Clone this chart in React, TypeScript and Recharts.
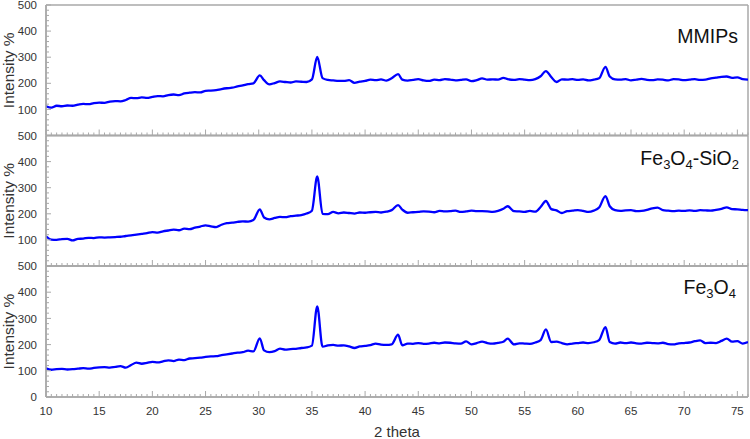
import React from 'react';
import { LineChart, Line, XAxis, YAxis, CartesianGrid } from 'recharts';

const theta = [
  10, 10.5, 11, 11.5, 12, 12.5, 13, 13.5, 14, 14.5,
  15, 15.5, 16, 16.5, 17, 17.5, 18, 18.5, 19, 19.5,
  20, 20.5, 21, 21.5, 22, 22.5, 23, 23.5, 24, 24.5,
  25, 25.5, 26, 26.5, 27, 27.5, 28, 28.5, 29, 29.5,
  30.1, 30.5, 31, 31.5, 32, 32.5, 33, 33.5, 34, 34.5,
  35, 35.5, 36, 36.5, 37, 37.5, 38, 38.5, 39, 39.5,
  40, 40.5, 41, 41.5, 42, 42.5, 43.1, 43.5, 44, 44.5,
  45, 45.5, 46, 46.5, 47, 47.5, 48, 48.5, 49, 49.5,
  50, 50.5, 51, 51.5, 52, 52.5, 53, 53.4, 54, 54.5,
  55, 55.5, 56, 56.5, 57, 57.5, 58, 58.5, 59, 59.5,
  60, 60.5, 61, 61.5, 62, 62.6, 63, 63.5, 64, 64.5,
  65, 65.5, 66, 66.5, 67, 67.5, 68, 68.5, 69, 69.5,
  70, 70.5, 71, 71.5, 72, 72.5, 73, 73.5, 74, 74.5,
  75, 75.5, 76,
];

const mmips = [
  112, 107, 114, 112, 115, 114, 118, 121, 120, 124,
  126, 125, 130, 132, 131, 136, 144, 143, 146, 144,
  148, 151, 150, 155, 157, 155, 161, 164, 166, 165,
  171, 172, 174, 178, 181, 183, 188, 192, 197, 200,
  230, 212, 196, 201, 207, 205, 203, 207, 206, 205,
  215, 301, 220, 213, 211, 209, 209, 212, 202, 206,
  209, 214, 212, 215, 210, 219, 235, 214, 210, 213,
  216, 211, 209, 214, 212, 216, 214, 211, 213, 215,
  208, 212, 219, 214, 215, 214, 221, 216, 213, 216,
  214, 212, 216, 227, 247, 224, 205, 215, 214, 216,
  213, 215, 211, 214, 219, 263, 226, 215, 214, 216,
  211, 214, 217, 213, 212, 215, 214, 211, 216, 215,
  212, 214, 216, 213, 214, 219, 222, 225, 226, 221,
  223, 216, 214,
];

const fe3o4SiO2 = [
  114, 101, 100, 103, 104, 98, 104, 105, 108, 107,
  110, 109, 110, 111, 112, 115, 117, 120, 123, 126,
  130, 128, 133, 136, 139, 137, 143, 141, 147, 151,
  156, 152, 149, 158, 164, 166, 169, 171, 170, 176,
  217, 186, 179, 184, 188, 187, 191, 193, 195, 201,
  212, 343, 200, 199, 207, 202, 205, 203, 201, 205,
  204, 206, 207, 205, 208, 214, 233, 216, 204, 206,
  207, 209, 208, 206, 211, 209, 210, 212, 207, 209,
  212, 210, 210, 209, 207, 211, 219, 229, 210, 209,
  207, 211, 208, 226, 249, 218, 213, 203, 210, 212,
  214, 211, 207, 212, 224, 268, 229, 214, 211, 213,
  214, 210, 211, 215, 221, 224, 214, 212, 210, 212,
  211, 213, 211, 214, 213, 212, 215, 219, 225, 218,
  217, 215, 214,
];

const fe3o4 = [
  110, 104, 106, 107, 105, 106, 108, 110, 108, 111,
  113, 114, 112, 115, 118, 112, 122, 131, 127, 130,
  134, 132, 136, 140, 137, 143, 141, 147, 148, 150,
  153, 155, 156, 160, 163, 166, 169, 171, 177, 174,
  224, 178, 171, 175, 185, 181, 183, 184, 187, 189,
  196, 346, 192, 197, 199, 196, 197, 193, 187, 193,
  195, 198, 204, 200, 199, 201, 238, 197, 204, 203,
  206, 203, 204, 207, 205, 208, 207, 205, 204, 212,
  201, 206, 211, 206, 204, 207, 211, 223, 201, 205,
  204, 203, 208, 217, 258, 210, 211, 206, 201, 204,
  206, 208, 206, 209, 217, 267, 210, 204, 208, 206,
  208, 205, 204, 207, 206, 205, 207, 202, 201, 205,
  206, 208, 213, 216, 206, 207, 206, 214, 223, 211,
  213, 204, 210,
];

const xTickLabels = [10, 15, 20, 25, 30, 35, 40, 45, 50, 55, 60, 65, 70, 75];
const yTickLabels = [0, 100, 200, 300, 400, 500];
const xTitle = '2 theta';
const yTitle = 'Intensity %';

const FONT = '"Liberation Sans", Arial, sans-serif';
const GRAY = '#a9a9a9';
const TEXT = '#333333';
const BLUE = '#0000ff';

const xMinorTicks: number[] = [];
for (let i = 0; i <= 132; i++) xMinorTicks.push(10 + i * 0.5);
const yMinorTicks: number[] = [];
for (let i = 0; i <= 25; i++) yMinorTicks.push(i * 20);

function renderXTick(props: any, showLabel: boolean) {
  const { x, y, payload } = props;
  const v = payload.value;
  const major = xTickLabels.includes(v);
  return (
    <g>
      <line x1={x} x2={x} y1={y} y2={y - (major ? 6 : 3)} stroke={GRAY} strokeWidth={1} />
      {showLabel && major && (
        <text x={x} y={y + 18} textAnchor="middle" fontSize={11.5} fill={TEXT} fontFamily={FONT}>
          {v}
        </text>
      )}
    </g>
  );
}

function renderYTick(props: any, showZero: boolean) {
  const { x, y, payload } = props;
  const v = payload.value;
  const major = yTickLabels.includes(v);
  const showLabel = major && (v !== 0 || showZero);
  return (
    <g>
      <line x1={x} x2={x + (major ? 5 : 3)} y1={y} y2={y} stroke={GRAY} strokeWidth={1} />
      {showLabel && (
        <text x={x - 9} y={y} dy="0.36em" textAnchor="end" fontSize={11.5} fill={TEXT} fontFamily={FONT}>
          {v}
        </text>
      )}
    </g>
  );
}

type PanelProps = { values: number[]; top: number; bottom: number; isBottom: boolean };

function Panel({ values, top, bottom, isBottom }: PanelProps) {
  const data = theta.map((t, i) => ({ t, v: values[i] }));
  const axisLine = { stroke: GRAY, strokeWidth: 1.5 };
  const xh = isBottom ? 40 : 2;
  return (
    <div style={{ position: 'absolute', left: 0, top: 0 }}>
      <LineChart width={750} height={439} data={data} margin={{ top, right: 2, bottom: 439 - bottom - xh, left: 0 }}>
        <CartesianGrid
          horizontalValues={[0, 500]}
          verticalValues={[10, 76]}
          stroke={GRAY}
          strokeWidth={1.5}
          fill="none"
        />
        <XAxis
          dataKey="t"
          type="number"
          domain={[10, 76]}
          allowDataOverflow
          ticks={xMinorTicks}
          interval={0}
          height={xh}
          tickSize={0}
          tickMargin={0}
          tickLine={false}
          axisLine={axisLine}
          tick={(p: any) => renderXTick(p, isBottom)}
        />
        <YAxis
          type="number"
          domain={[0, 500]}
          allowDataOverflow
          ticks={yMinorTicks}
          interval={0}
          width={46}
          tickSize={0}
          tickMargin={0}
          tickLine={false}
          axisLine={axisLine}
          tick={(p: any) => renderYTick(p, isBottom)}
        />
        <Line dataKey="v" type="monotone" stroke={BLUE} strokeWidth={2.3} dot={false} activeDot={false} isAnimationActive={false} />
      </LineChart>
    </div>
  );
}

const panels = [
  { values: mmips, top: 5, bottom: 135.5 },
  { values: fe3o4SiO2, top: 135.5, bottom: 266 },
  { values: fe3o4, top: 266, bottom: 397 },
];

export default function App() {
  return (
    <div style={{ position: 'absolute', left: 0, top: 0, width: 750, height: 439, background: '#fff' }}>
      {panels.map((p, i) => (
        <Panel key={i} values={p.values} top={p.top} bottom={p.bottom} isBottom={i === panels.length - 1} />
      ))}
      <svg width={750} height={439} style={{ position: 'absolute', left: 0, top: 0, pointerEvents: 'none' }}>
        {panels.map((p, i) => {
          const cy = (p.top + p.bottom) / 2;
          return (
            <text key={i} x={13.5} y={cy} transform={`rotate(-90 13.5 ${cy})`} textAnchor="middle" fontSize={15.5} fill={TEXT} fontFamily={FONT}>
              {yTitle}
            </text>
          );
        })}
        <text x={397} y={437} textAnchor="middle" fontSize={15} fill={TEXT} fontFamily={FONT}>{xTitle}</text>
        <text x={738} y={43} textAnchor="end" fontSize={19.5} fill="#111" fontFamily={FONT}>MMIPs</text>
        <text x={739} y={164.5} textAnchor="end" fontSize={19.5} fill="#111" fontFamily={FONT}>
          Fe<tspan fontSize={13} dy={4}>3</tspan><tspan dy={-4}>O</tspan><tspan fontSize={13} dy={4}>4</tspan><tspan dy={-4}>-SiO</tspan><tspan fontSize={13} dy={4}>2</tspan>
        </text>
        <text x={736} y={294} textAnchor="end" fontSize={19.5} fill="#111" fontFamily={FONT}>
          Fe<tspan fontSize={13} dy={4}>3</tspan><tspan dy={-4}>O</tspan><tspan fontSize={13} dy={4}>4</tspan>
        </text>
      </svg>
    </div>
  );
}
